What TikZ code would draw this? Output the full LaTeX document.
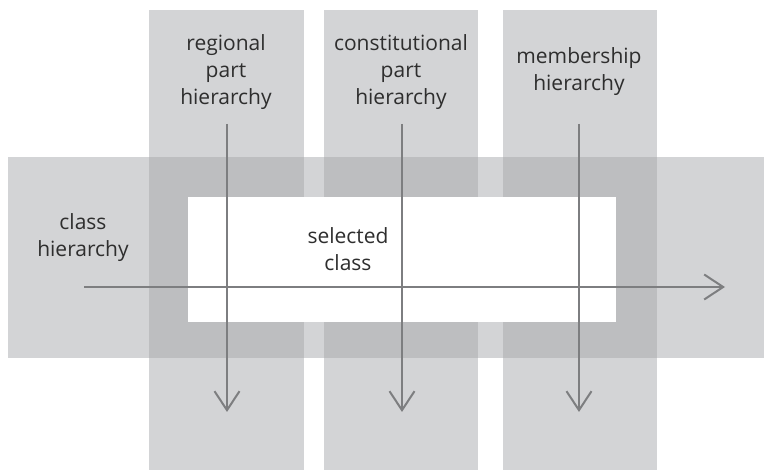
\documentclass[tikz,border=0pt]{standalone}
\usepackage{fontspec}
\setmainfont{Open Sans}
\usetikzlibrary{arrows.meta}
\definecolor{bandgray}{HTML}{D3D4D6}
\definecolor{overgray}{HTML}{BDBEC0}
\definecolor{arrowgray}{HTML}{7D7E80}
\definecolor{textgray}{HTML}{2E2E2E}
\tikzset{
  band/.style={fill=bandgray, draw=none},
  overlap/.style={fill=overgray, draw=none},
  lbl/.style={text=textgray, font=\fontsize{21}{27}\selectfont, align=center, inner sep=0pt},
  flow/.style={draw=arrowgray, line width=2pt, -{Straight Barb[length=19pt,width=25pt,line width=2pt]}}
}
\begin{document}
\begin{tikzpicture}[x=1pt,y=-1pt]
\useasboundingbox (0,0) rectangle (764,470);
% horizontal band
\fill[band] (8,157) rectangle (764,358);
% vertical bands
\fill[band] (149,10) rectangle (304,470);
\fill[band] (324,10) rectangle (478,470);
\fill[band] (503,10) rectangle (657,470);
% overlaps
\fill[overlap] (149,157) rectangle (304,358);
\fill[overlap] (324,157) rectangle (478,358);
\fill[overlap] (503,157) rectangle (657,358);
% selected class box
\fill[white] (188,197) rectangle (616,322);
% labels
\node[lbl] (reg) at (226,72) {regional\\part\\hierarchy};
\node[lbl] (con) at (401,72) {constitutional\\part\\hierarchy};
\node[lbl] (mem) at (579,72) {membership\\hierarchy};
\node[lbl] (cls) at (83,238) {class\\hierarchy};
\node[lbl] (sel) at (348,249) {selected\\class};
% arrows
\coordinate (r1) at (227,124); \coordinate (r2) at (227,412);
\coordinate (c1) at (402,124); \coordinate (c2) at (402,412);
\coordinate (m1) at (579,124); \coordinate (m2) at (579,412);
\coordinate (h1) at (84,287);  \coordinate (h2) at (725,287);
\draw[flow] (r1) -- (r2);
\draw[flow] (c1) -- (c2);
\draw[flow] (m1) -- (m2);
\draw[flow] (h1) -- (h2);
\end{tikzpicture}
\end{document}
